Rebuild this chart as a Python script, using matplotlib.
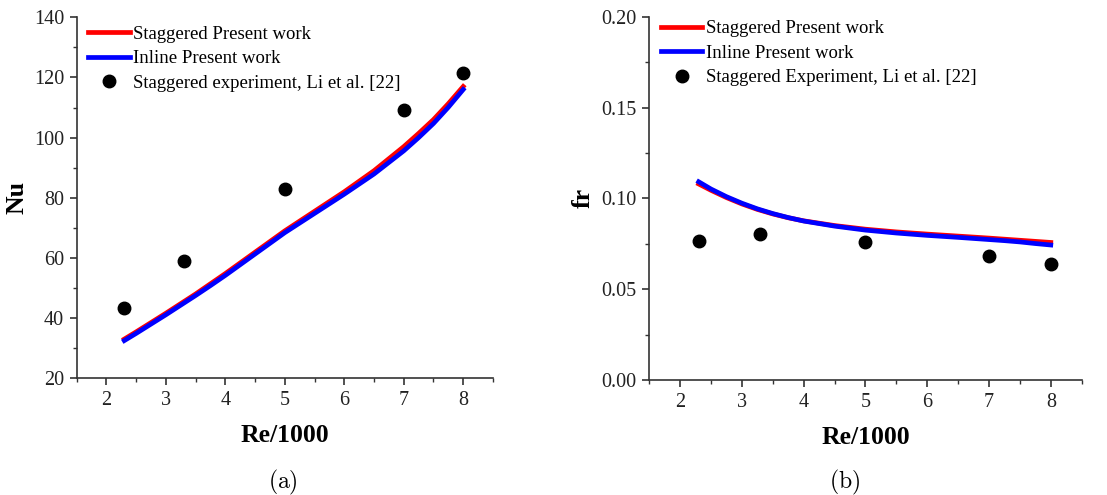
import matplotlib
matplotlib.use("Agg")
import matplotlib.pyplot as plt
from matplotlib.ticker import MultipleLocator, FormatStrFormatter

plt.rcParams['font.family'] = ['Liberation Serif', 'DejaVu Serif']
plt.rcParams['mathtext.fontset'] = 'cm'

# Re/1000 values of the simulation curves
re_line = [2.3, 2.5, 2.75, 3.0, 3.25, 3.5, 3.75, 4.0, 4.5, 5.0, 5.5, 6.0, 6.5,
           7.0, 7.25, 7.5, 7.75, 8.0]

# (a) Nusselt number
nu_stag = [33.0, 35.4, 38.5, 41.6, 44.8, 48.0, 51.4, 54.8, 61.9, 69.0, 75.5,
           82.0, 89.0, 97.0, 101.4, 106.0, 111.3, 117.0]
nu_inline = [32.5, 34.9, 38.0, 41.1, 44.3, 47.5, 50.8, 54.2, 61.3, 68.4, 74.8,
             81.2, 87.9, 95.6, 100.0, 104.7, 110.1, 116.0]
re_exp = [2.3, 3.3, 5.0, 7.0, 8.0]
nu_exp = [43.5, 58.9, 82.8, 109.3, 121.4]

# (b) friction factor
fr_stag = [0.1080, 0.1045, 0.1005, 0.0970, 0.0940, 0.0915, 0.0894, 0.0877,
           0.0851, 0.0831, 0.0816, 0.0804, 0.0793, 0.0782, 0.0776, 0.0770,
           0.0764, 0.0758]
fr_inline = [0.1092, 0.1052, 0.1010, 0.0974, 0.0943, 0.0917, 0.0895, 0.0876,
             0.0848, 0.0826, 0.0810, 0.0797, 0.0786, 0.0774, 0.0768, 0.0761,
             0.0752, 0.0744]
fr_exp = [0.0767, 0.0804, 0.0761, 0.0686, 0.0637]

fig = plt.figure(figsize=(11.07, 4.95), dpi=100)
ax1 = fig.add_axes([0.0693, 0.236, 0.376, 0.729])
ax2 = fig.add_axes([0.5865, 0.232, 0.3906, 0.734])


def style(ax, ylabel, ylabel_x, leg_y):
    ax.set_xlim(1.5, 8.5)
    ax.xaxis.set_major_locator(MultipleLocator(1))
    ax.xaxis.set_minor_locator(MultipleLocator(0.5))
    for s in ('top', 'right'):
        ax.spines[s].set_visible(False)
    for s in ('left', 'bottom'):
        ax.spines[s].set_color('#333333')
        ax.spines[s].set_linewidth(1.2)
    ax.tick_params(which='major', direction='out', length=5, width=1.2,
                   labelsize=14.5, colors='#333333', labelcolor='#222222', pad=4)
    ax.tick_params(which='minor', direction='out', length=3, width=1.0, colors='#333333')
    ax.set_xlabel('Re/1000', fontsize=18.5, fontweight='bold', labelpad=10)
    ax.set_ylabel(ylabel, fontsize=18.5, fontweight='bold')
    ax.yaxis.set_label_coords(ylabel_x, 0.5)
    ax.legend(loc='upper left', frameon=False, fontsize=13.5, handlelength=2.2,
              handletextpad=0.2, labelspacing=0.4, borderaxespad=0.0,
              bbox_to_anchor=(0.01, leg_y))


ax1.plot(re_line, nu_stag, color='#ff0000', lw=3.4, label='Staggered Present work')
ax1.plot(re_line, nu_inline, color='#0000ff', lw=3.4, label='Inline Present work')
ax1.plot(re_exp, nu_exp, 'o', color='black', ms=9,
         label='Staggered experiment, Li et al. [22]')
ax1.set_ylim(20, 140)
ax1.yaxis.set_major_locator(MultipleLocator(20))
ax1.yaxis.set_minor_locator(MultipleLocator(10))
style(ax1, 'Nu', -0.117, 0.998)

ax2.plot(re_line, fr_stag, color='#ff0000', lw=3.4, label='Staggered Present work')
ax2.plot(re_line, fr_inline, color='#0000ff', lw=3.4, label='Inline Present work')
ax2.plot(re_exp, fr_exp, 'o', color='black', ms=9,
         label='Staggered Experiment, Li et al. [22]')
ax2.set_ylim(0, 0.2)
ax2.yaxis.set_major_locator(MultipleLocator(0.05))
ax2.yaxis.set_minor_locator(MultipleLocator(0.025))
ax2.yaxis.set_major_formatter(FormatStrFormatter('%.2f'))
style(ax2, 'fr', -0.126, 1.012)

fig.text(283 / 1107, 1 - 482 / 495, r'$\mathrm{(a)}$', fontsize=17, ha='center', va='center')
fig.text(845 / 1107, 1 - 482 / 495, r'$\mathrm{(b)}$', fontsize=17, ha='center', va='center')

fig.savefig('out.png', dpi=100)
